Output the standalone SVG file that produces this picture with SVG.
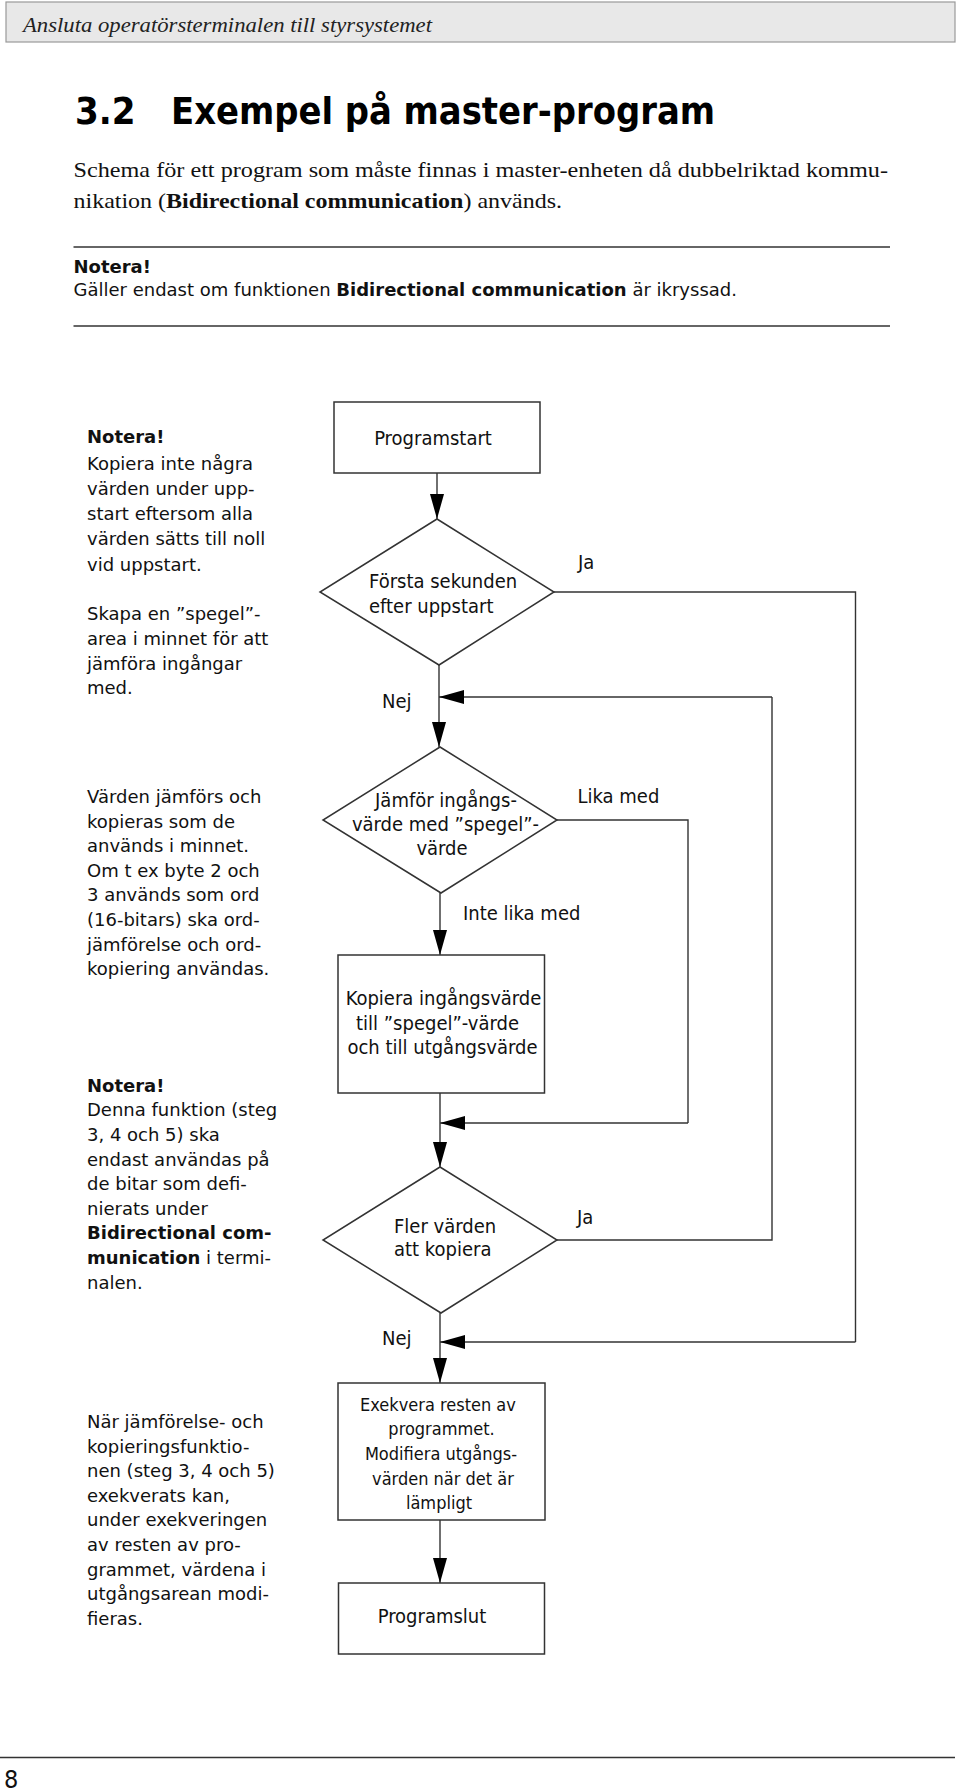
<svg xmlns="http://www.w3.org/2000/svg" width="960" height="1792" viewBox="0 0 960 1792">
<style>
.hdr{font-family:"Liberation Serif",serif;font-style:italic;font-size:20px;fill:#222}
.title{font-family:"DejaVu Sans Condensed","DejaVu Sans",sans-serif;font-weight:bold;font-size:38px;fill:#000}
.para{font-family:"Liberation Serif",serif;font-size:22px;fill:#111}
.note{font-family:"DejaVu Sans",sans-serif;font-size:18px;fill:#111}
.b{font-weight:bold}
.fc{font-family:"DejaVu Sans Condensed","DejaVu Sans",sans-serif;font-size:20px;fill:#111}
.fs{font-family:"DejaVu Sans Condensed","DejaVu Sans",sans-serif;font-size:18px;fill:#111}
.shape{fill:#fff;stroke:#333;stroke-width:1.5}
.conn{fill:none;stroke:#333;stroke-width:1.4}
.rule{stroke:#333;stroke-width:1.5}
</style>
<defs>
<marker id="arr" markerUnits="userSpaceOnUse" markerWidth="25" markerHeight="14" refX="25" refY="7" orient="auto">
<path d="M0,0 L25,7 L0,14 z" fill="#000"/>
</marker>
</defs>
<rect x="0" y="0" width="960" height="1792" fill="#fff"/>

<g id="header">
<rect x="6" y="2" width="949" height="40" fill="#e8e8e8" stroke="#999" stroke-width="1.2"/>
<text class="hdr" x="23" y="32" textLength="409" lengthAdjust="spacingAndGlyphs">Ansluta operatörsterminalen till styrsystemet</text>
</g>

<g id="title">
<text class="title" x="75" y="124">3.2</text>
<text class="title" x="171" y="124" textLength="544" lengthAdjust="spacingAndGlyphs">Exempel på master-program</text>
</g>

<g id="intro">
<text class="para" x="73.5" y="177" textLength="814.5" lengthAdjust="spacingAndGlyphs">Schema för ett program som måste finnas i master-enheten då dubbelriktad kommu-</text>
<text class="para" x="73.5" y="208" textLength="488.5" lengthAdjust="spacingAndGlyphs">nikation (<tspan class="b">Bidirectional communication</tspan>) används.</text>
<line class="rule" x1="73.5" y1="247" x2="890" y2="247"/>
<text class="note" x="73.5" y="273"><tspan class="b">Notera!</tspan></text>
<text class="note" x="73.5" y="296">Gäller endast om funktionen <tspan class="b">Bidirectional communication</tspan> är ikryssad.</text>
<line class="rule" x1="73.5" y1="326" x2="890" y2="326"/>
</g>

<g id="note1">
<text class="note" x="87" y="443"><tspan class="b">Notera!</tspan></text>
<text class="note" x="87" y="470">Kopiera inte några</text>
<text class="note" x="87" y="495">värden under upp-</text>
<text class="note" x="87" y="520">start eftersom alla</text>
<text class="note" x="87" y="545">värden sätts till noll</text>
<text class="note" x="87" y="571">vid uppstart.</text>
<text class="note" x="87" y="620">Skapa en ”spegel”-</text>
<text class="note" x="87" y="645">area i minnet för att</text>
<text class="note" x="87" y="669.5">jämföra ingångar</text>
<text class="note" x="87" y="694">med.</text>
</g>

<g id="note2">
<text class="note" x="87" y="803">Värden jämförs och</text>
<text class="note" x="87" y="827.6">kopieras som de</text>
<text class="note" x="87" y="852.2">används i minnet.</text>
<text class="note" x="87" y="876.8">Om t ex byte 2 och</text>
<text class="note" x="87" y="901.4">3 används som ord</text>
<text class="note" x="87" y="926">(16-bitars) ska ord-</text>
<text class="note" x="87" y="950.6">jämförelse och ord-</text>
<text class="note" x="87" y="975.2">kopiering användas.</text>
</g>

<g id="note3">
<text class="note" x="87" y="1091.7"><tspan class="b">Notera!</tspan></text>
<text class="note" x="87" y="1116.3">Denna funktion (steg</text>
<text class="note" x="87" y="1140.9">3, 4 och 5) ska</text>
<text class="note" x="87" y="1165.5">endast användas på</text>
<text class="note" x="87" y="1190.1">de bitar som defi-</text>
<text class="note" x="87" y="1214.7">nierats under</text>
<text class="note" x="87" y="1239.3"><tspan class="b">Bidirectional com-</tspan></text>
<text class="note" x="87" y="1263.9"><tspan class="b">munication</tspan> i termi-</text>
<text class="note" x="87" y="1288.5">nalen.</text>
</g>

<g id="note4">
<text class="note" x="87" y="1428">När jämförelse- och</text>
<text class="note" x="87" y="1452.6">kopieringsfunktio-</text>
<text class="note" x="87" y="1477.2">nen (steg 3, 4 och 5)</text>
<text class="note" x="87" y="1501.8">exekverats kan,</text>
<text class="note" x="87" y="1526.4">under exekveringen</text>
<text class="note" x="87" y="1551">av resten av pro-</text>
<text class="note" x="87" y="1575.6">grammet, värdena i</text>
<text class="note" x="87" y="1600.2">utgångsarean modi-</text>
<text class="note" x="87" y="1624.8">fieras.</text>
</g>

<g id="connectors">
<line class="conn" x1="437" y1="473" x2="437" y2="519" marker-end="url(#arr)"/>
<line class="conn" x1="439" y1="665" x2="439" y2="747" marker-end="url(#arr)"/>
<polyline class="conn" points="554,592 855.5,592 855.5,1342"/>
<line class="conn" x1="855.5" y1="1342" x2="440" y2="1342" marker-end="url(#arr)"/>
<line class="conn" x1="440" y1="893" x2="440" y2="955" marker-end="url(#arr)"/>
<polyline class="conn" points="557,820 688,820 688,1123"/>
<line class="conn" x1="688" y1="1123" x2="440" y2="1123" marker-end="url(#arr)"/>
<line class="conn" x1="440" y1="1093" x2="440" y2="1167" marker-end="url(#arr)"/>
<polyline class="conn" points="557,1240 772,1240 772,697"/>
<line class="conn" x1="772" y1="697" x2="439" y2="697" marker-end="url(#arr)"/>
<line class="conn" x1="440" y1="1313" x2="440" y2="1383" marker-end="url(#arr)"/>
<line class="conn" x1="440" y1="1520" x2="440" y2="1583" marker-end="url(#arr)"/>
<text class="fc" x="578" y="569">Ja</text>
<text class="fc" x="382" y="708">Nej</text>
<text class="fc" x="577.5" y="803">Lika med</text>
<text class="fc" x="463" y="920">Inte lika med</text>
<text class="fc" x="577" y="1224">Ja</text>
<text class="fc" x="382" y="1345">Nej</text>
</g>

<g id="programstart">
<rect class="shape" x="334" y="402" width="206" height="71"/>
<text class="fc" x="433" y="445" text-anchor="middle">Programstart</text>
</g>

<g id="forsta-sekunden">
<polygon class="shape" points="437,519 554,592 439,665 320,592"/>
<text class="fc" x="369" y="588">Första sekunden</text>
<text class="fc" x="369" y="613">efter uppstart</text>
</g>

<g id="jamfor">
<polygon class="shape" points="440,747 557,820 441,893 323,820"/>
<text class="fc" x="446" y="807" text-anchor="middle">Jämför ingångs-</text>
<text class="fc" x="445.5" y="831" text-anchor="middle">värde med ”spegel”-</text>
<text class="fc" x="442" y="855" text-anchor="middle">värde</text>
</g>

<g id="kopiera">
<rect class="shape" x="338" y="955" width="206.5" height="138"/>
<text class="fc" x="443.5" y="1005" text-anchor="middle">Kopiera ingångsvärde</text>
<text class="fc" x="437.5" y="1029.5" text-anchor="middle">till ”spegel”-värde</text>
<text class="fc" x="442.5" y="1054" text-anchor="middle">och till utgångsvärde</text>
</g>

<g id="fler-varden">
<polygon class="shape" points="440,1167 557,1240 441,1313 323,1240"/>
<text class="fc" x="394" y="1233">Fler värden</text>
<text class="fc" x="394" y="1256">att kopiera</text>
</g>

<g id="exekvera">
<rect class="shape" x="338" y="1383" width="207" height="137"/>
<text class="fs" x="438" y="1410.5" text-anchor="middle">Exekvera resten av</text>
<text class="fs" x="441.5" y="1435" text-anchor="middle">programmet.</text>
<text class="fs" x="441" y="1460" text-anchor="middle">Modifiera utgångs-</text>
<text class="fs" x="443" y="1485" text-anchor="middle">värden när det är</text>
<text class="fs" x="439" y="1509" text-anchor="middle">lämpligt</text>
</g>

<g id="programslut">
<rect class="shape" x="338.5" y="1583" width="206" height="71"/>
<text class="fc" x="432" y="1622.7" text-anchor="middle">Programslut</text>
</g>

<g id="footer">
<line class="rule" x1="0" y1="1757.5" x2="955" y2="1757.5"/>
<text x="4" y="1788" font-family="DejaVu Sans Condensed, DejaVu Sans, sans-serif" font-size="25" fill="#111">8</text>
</g>
</svg>
